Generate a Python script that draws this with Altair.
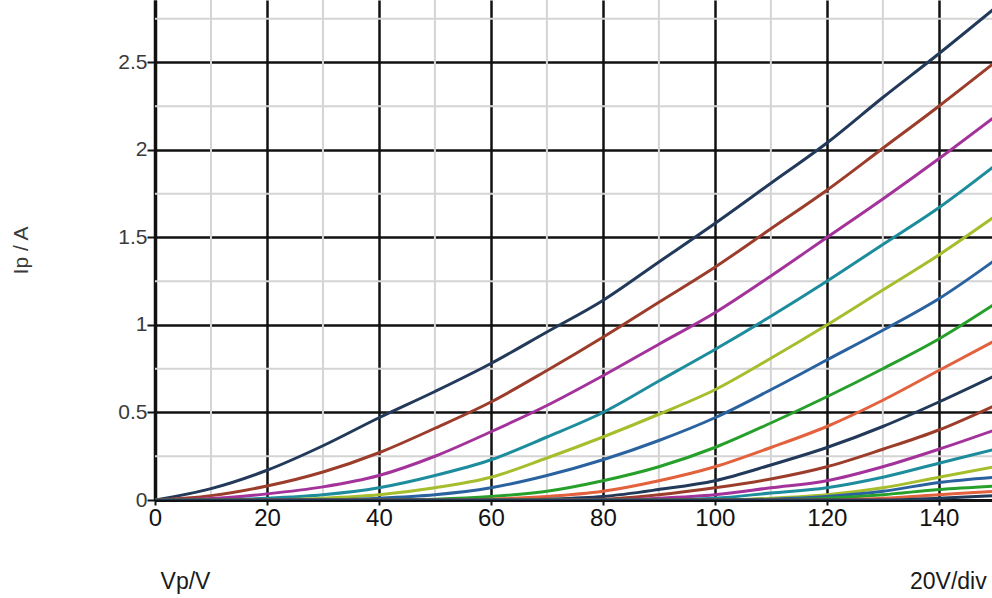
import altair as alt
import pandas as pd

# Plate voltage samples (V)
VP = [0, 10, 20, 30, 40, 50, 60, 70, 80, 90, 100, 110, 120, 130, 140, 150]

# Plate current (A) for each curve at the VP samples
C01 = [0, 0.065, 0.17, 0.31, 0.47, 0.62, 0.78, 0.96, 1.14, 1.36, 1.58, 1.81, 2.04, 2.30, 2.55, 2.81]
C02 = [0, 0.025, 0.08, 0.16, 0.27, 0.41, 0.56, 0.74, 0.93, 1.13, 1.33, 1.55, 1.77, 2.01, 2.25, 2.50]
C03 = [0, 0.008, 0.035, 0.075, 0.14, 0.25, 0.39, 0.54, 0.71, 0.89, 1.07, 1.28, 1.50, 1.72, 1.95, 2.19]
C04 = [0, 0, 0.01, 0.03, 0.07, 0.14, 0.23, 0.36, 0.50, 0.68, 0.86, 1.05, 1.25, 1.46, 1.67, 1.91]
C05 = [0, 0, 0, 0.01, 0.03, 0.07, 0.13, 0.24, 0.36, 0.49, 0.63, 0.81, 1.00, 1.20, 1.40, 1.62]
C06 = [0, 0, 0, 0, 0.01, 0.03, 0.07, 0.14, 0.23, 0.34, 0.47, 0.63, 0.80, 0.97, 1.15, 1.37]
C07 = [0, 0, 0, 0, 0, 0.005, 0.02, 0.05, 0.11, 0.19, 0.30, 0.44, 0.59, 0.75, 0.92, 1.12]
C08 = [0, 0, 0, 0, 0, 0, 0.005, 0.02, 0.05, 0.11, 0.19, 0.30, 0.42, 0.57, 0.74, 0.91]
C09 = [0, 0, 0, 0, 0, 0, 0, 0.005, 0.02, 0.06, 0.11, 0.20, 0.30, 0.42, 0.56, 0.71]
C10 = [0, 0, 0, 0, 0, 0, 0, 0, 0.005, 0.03, 0.07, 0.12, 0.19, 0.29, 0.40, 0.54]
C11 = [0, 0, 0, 0, 0, 0, 0, 0, 0, 0.01, 0.03, 0.07, 0.11, 0.19, 0.29, 0.40]
C12 = [0, 0, 0, 0, 0, 0, 0, 0, 0, 0, 0.01, 0.04, 0.07, 0.13, 0.21, 0.29]
C13 = [0, 0, 0, 0, 0, 0, 0, 0, 0, 0, 0, 0.01, 0.03, 0.07, 0.13, 0.19]
C14 = [0, 0, 0, 0, 0, 0, 0, 0, 0, 0, 0, 0.005, 0.02, 0.05, 0.10, 0.13]
C15 = [0, 0, 0, 0, 0, 0, 0, 0, 0, 0, 0, 0, 0.01, 0.03, 0.06, 0.08]
C16 = [0, 0, 0, 0, 0, 0, 0, 0, 0, 0, 0, 0, 0, 0.01, 0.03, 0.05]
C17 = [0, 0, 0, 0, 0, 0, 0, 0, 0, 0, 0, 0, 0, 0, 0.01, 0.025]

CURVE_NAMES = ["c01", "c02", "c03", "c04", "c05", "c06", "c07", "c08", "c09",
               "c10", "c11", "c12", "c13", "c14", "c15", "c16", "c17"]
CURVE_VALUES = [C01, C02, C03, C04, C05, C06, C07, C08, C09,
                C10, C11, C12, C13, C14, C15, C16, C17]

# Grid positions
MAJOR_X = [0, 20, 40, 60, 80, 100, 120, 140]
MAJOR_Y = [0, 0.5, 1, 1.5, 2, 2.5]
MINOR_X = [10, 30, 50, 70, 90, 110, 130]
MINOR_Y = [0.25, 0.75, 1.25, 1.75, 2.25, 2.75]

# Styles
CYCLE = ["#22395a", "#9c3d2c", "#a3329b", "#1d8c9c", "#a6bd2c", "#2a62a0", "#26a02a", "#e2623e"]
COLORS = [CYCLE[i % len(CYCLE)] for i in range(len(CURVE_NAMES))]
FONT = "Liberation Sans"

rows = []
for name, vals in zip(CURVE_NAMES, CURVE_VALUES):
    for v, i in zip(VP, vals):
        rows.append({"curve": name, "Vp": v, "Ip": i})
df = pd.DataFrame(rows)

XDOM = [0, 149.5]
YDOM = [0, 2.857]

x_scale = alt.Scale(domain=XDOM, nice=False, zero=False)
y_scale = alt.Scale(domain=YDOM, nice=False, zero=False)

minor_x = alt.Chart(pd.DataFrame({"v": MINOR_X})).mark_rule(
    color="#d4d4d4", strokeWidth=2
).encode(x=alt.X("v:Q", scale=x_scale, axis=None))

minor_y = alt.Chart(pd.DataFrame({"v": MINOR_Y})).mark_rule(
    color="#d4d4d4", strokeWidth=2
).encode(y=alt.Y("v:Q", scale=y_scale, axis=None))

lines = alt.Chart(df).mark_line(strokeWidth=3, clip=True, interpolate="monotone").encode(
    x=alt.X(
        "Vp:Q",
        scale=x_scale,
        axis=alt.Axis(
            orient="bottom",
            values=MAJOR_X,
            title="Vp/V",
            titleX=30,
            titleY=81,
            titleAlign="center",
            titleBaseline="middle",
            titleFont=FONT,
            titleFontSize=23,
            titleFontWeight="normal",
            titleColor="#1a1a1a",
            grid=True,
            gridColor="#111111",
            gridWidth=2.5,
            domainColor="#111111",
            domainWidth=3,
            tickColor="#111111",
            tickSize=5,
            tickWidth=2,
            labelFont=FONT,
            labelFontSize=24,
            labelColor="#111111",
            labelPadding=1,
            labelFlush=False,
        ),
    ),
    y=alt.Y(
        "Ip:Q",
        scale=y_scale,
        axis=alt.Axis(
            orient="left",
            values=MAJOR_Y,
            title="Ip / A",
            titleX=-134,
            titleY=250,
            titleAngle=-90,
            titleAlign="center",
            titleBaseline="middle",
            titleFont=FONT,
            titleFontSize=21,
            titleFontWeight="normal",
            titleColor="#3a3a3a",
            grid=True,
            gridColor="#111111",
            gridWidth=2.5,
            domainColor="#111111",
            domainWidth=3.5,
            tickColor="#111111",
            tickSize=8,
            tickWidth=2,
            labelFont=FONT,
            labelFontSize=21,
            labelColor="#3a3a3a",
            labelPadding=0,
            labelFlush=False,
            format="~g",
        ),
    ),
    color=alt.Color("curve:N", scale=alt.Scale(domain=CURVE_NAMES, range=COLORS), legend=None),
    detail="curve:N",
)

div_text = alt.Chart(pd.DataFrame({"t": ["20V/div"]})).mark_text(
    align="left", baseline="middle", font=FONT, fontSize=23, color="#1a1a1a"
).encode(x=alt.value(755), y=alt.value(582), text="t:N")

chart = alt.layer(minor_x, minor_y, lines, div_text).resolve_axis(
    x="independent", y="independent"
).properties(
    width=837,
    height=500,
    autosize=alt.AutoSizeParams(type="none"),
    padding={"left": 155, "top": 0, "right": 0, "bottom": 98},
    background="white",
).configure_view(stroke=None)

chart.save("out.html", embed_options={"renderer": "svg", "actions": False})
